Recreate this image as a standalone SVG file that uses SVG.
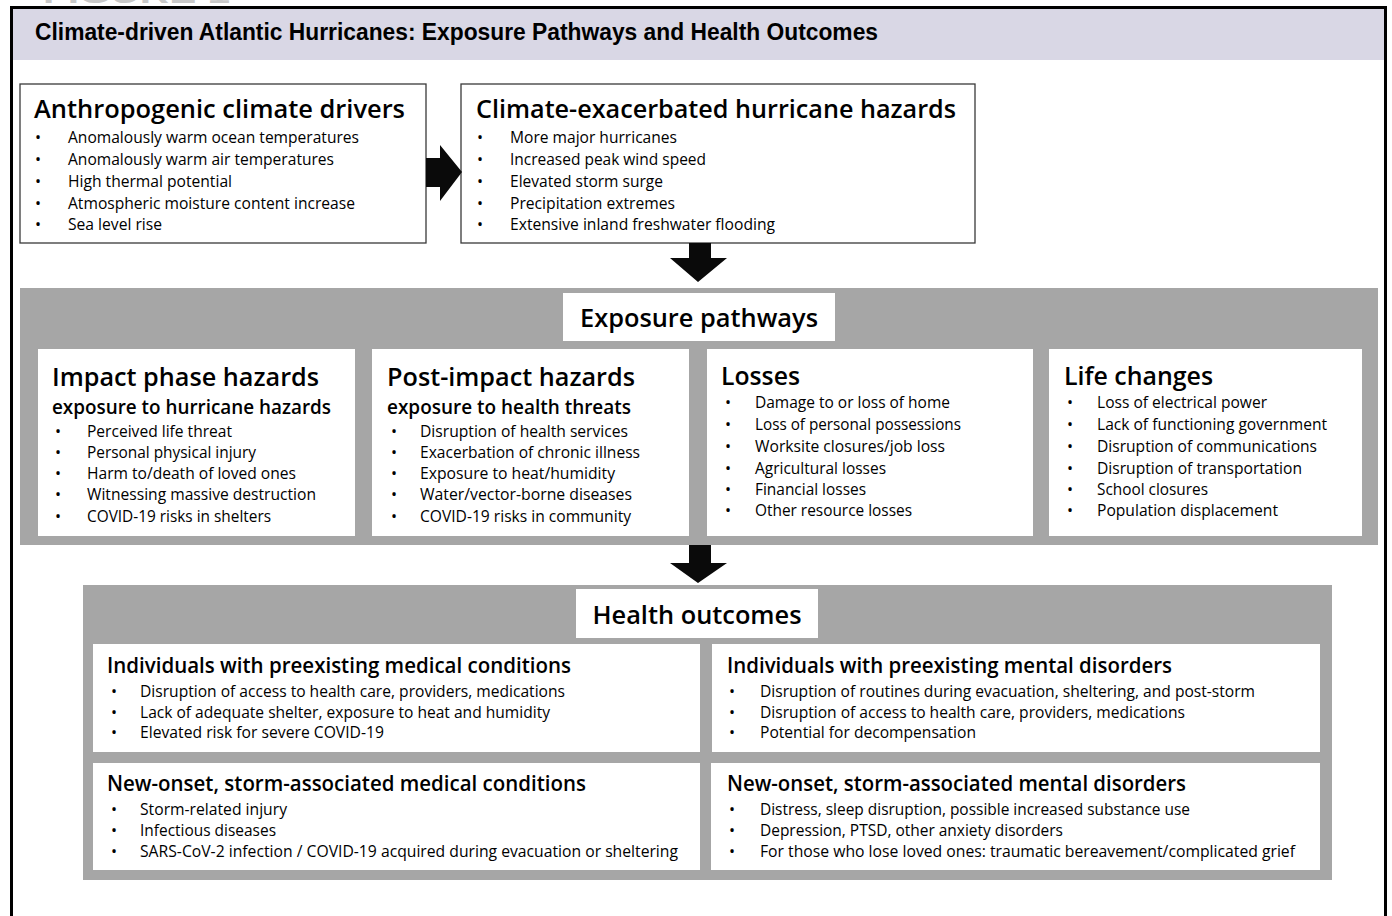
<svg xmlns="http://www.w3.org/2000/svg" width="1392" height="916" viewBox="0 0 1392 916">
<style>
text{font-family:"Open Sans","Noto Sans","Liberation Sans",sans-serif;fill:#000}
.hdr{font-family:"Liberation Sans",Arial,sans-serif;font-weight:bold;font-size:23px}
.t1{font-weight:600;font-size:26px}
.t2{font-weight:600;font-size:26px}
.sub{font-weight:600;font-size:19px}
.th{font-weight:600;font-size:21px}
.it{font-size:16px}
.b{font-size:16px}
.box{fill:#fff;stroke:#3a3a3a;stroke-width:1.3}
.panel{fill:#a6a6a6}
.wb{fill:#fff}
.arr{fill:#0a0a0a}
</style>
<rect width="1392" height="916" fill="#fff"/>
<text x="43" y="3" style="font-family:'Liberation Sans',Arial,sans-serif;font-weight:bold;font-size:28px;fill:#c8c8c8" textLength="187" lengthAdjust="spacingAndGlyphs">FIGURE 1</text>
<rect x="11.5" y="7.5" width="1374" height="950" fill="none" stroke="#000" stroke-width="3"/>
<g id="title">
<rect x="13" y="9" width="1371" height="51" fill="#d9d7e5"/>
<text class="hdr" x="35" y="40" textLength="843" lengthAdjust="spacingAndGlyphs">Climate-driven Atlantic Hurricanes: Exposure Pathways and Health Outcomes</text>
</g>
<g id="drivers">
<rect class="box" x="20" y="84" width="406" height="159"/>
<text class="t1" x="34" y="118" textLength="371" lengthAdjust="spacingAndGlyphs">Anthropogenic climate drivers</text>
<g class="b"><text x="35" y="143">•</text><text x="35" y="165">•</text><text x="35" y="187">•</text><text x="35" y="209">•</text><text x="35" y="230">•</text></g>
<text class="it" x="68" y="143" textLength="291" lengthAdjust="spacingAndGlyphs">Anomalously warm ocean temperatures</text>
<text class="it" x="68" y="165" textLength="266" lengthAdjust="spacingAndGlyphs">Anomalously warm air temperatures</text>
<text class="it" x="68" y="187" textLength="164" lengthAdjust="spacingAndGlyphs">High thermal potential</text>
<text class="it" x="68" y="209" textLength="287" lengthAdjust="spacingAndGlyphs">Atmospheric moisture content increase</text>
<text class="it" x="68" y="230" textLength="94" lengthAdjust="spacingAndGlyphs">Sea level rise</text>
</g>
<g id="hazards">
<rect class="box" x="461" y="84" width="514" height="159"/>
<text class="t1" x="476" y="118" textLength="480" lengthAdjust="spacingAndGlyphs">Climate-exacerbated hurricane hazards</text>
<g class="b"><text x="477" y="143">•</text><text x="477" y="165">•</text><text x="477" y="187">•</text><text x="477" y="209">•</text><text x="477" y="230">•</text></g>
<text class="it" x="510" y="143" textLength="167" lengthAdjust="spacingAndGlyphs">More major hurricanes</text>
<text class="it" x="510" y="165" textLength="196" lengthAdjust="spacingAndGlyphs">Increased peak wind speed</text>
<text class="it" x="510" y="187" textLength="153" lengthAdjust="spacingAndGlyphs">Elevated storm surge</text>
<text class="it" x="510" y="209" textLength="165" lengthAdjust="spacingAndGlyphs">Precipitation extremes</text>
<text class="it" x="510" y="230" textLength="265" lengthAdjust="spacingAndGlyphs">Extensive inland freshwater flooding</text>
</g>
<g id="exposure">
<rect class="panel" x="20" y="288" width="1358" height="257"/>
<rect class="wb" x="563" y="293" width="272" height="48"/>
<text class="t2" x="699" y="327" text-anchor="middle" textLength="238" lengthAdjust="spacingAndGlyphs">Exposure pathways</text>
</g>
<g id="impact">
<rect class="wb" x="38" y="349" width="317" height="187"/>
<text class="t2" x="52" y="386" textLength="267" lengthAdjust="spacingAndGlyphs">Impact phase hazards</text>
<text class="sub" x="52" y="414" textLength="279" lengthAdjust="spacingAndGlyphs">exposure to hurricane  hazards</text>
<g class="b"><text x="55" y="437">•</text><text x="55" y="458">•</text><text x="55" y="479">•</text><text x="55" y="500">•</text><text x="55" y="522">•</text></g>
<text class="it" x="87" y="437" textLength="145" lengthAdjust="spacingAndGlyphs">Perceived life threat</text>
<text class="it" x="87" y="458" textLength="169" lengthAdjust="spacingAndGlyphs">Personal physical injury</text>
<text class="it" x="87" y="479" textLength="209" lengthAdjust="spacingAndGlyphs">Harm to/death of loved ones</text>
<text class="it" x="87" y="500" textLength="229" lengthAdjust="spacingAndGlyphs">Witnessing massive destruction</text>
<text class="it" x="87" y="522" textLength="184" lengthAdjust="spacingAndGlyphs">COVID-19 risks in shelters</text>
</g>
<g id="postimpact">
<rect class="wb" x="372" y="349" width="317" height="187"/>
<text class="t2" x="387" y="386" textLength="248" lengthAdjust="spacingAndGlyphs">Post-impact hazards</text>
<text class="sub" x="387" y="414" textLength="244" lengthAdjust="spacingAndGlyphs">exposure to health threats</text>
<g class="b"><text x="391" y="437">•</text><text x="391" y="458">•</text><text x="391" y="479">•</text><text x="391" y="500">•</text><text x="391" y="522">•</text></g>
<text class="it" x="420" y="437" textLength="208" lengthAdjust="spacingAndGlyphs">Disruption of health services</text>
<text class="it" x="420" y="458" textLength="220" lengthAdjust="spacingAndGlyphs">Exacerbation of chronic illness</text>
<text class="it" x="420" y="479" textLength="195" lengthAdjust="spacingAndGlyphs">Exposure to heat/humidity</text>
<text class="it" x="420" y="500" textLength="212" lengthAdjust="spacingAndGlyphs">Water/vector-borne diseases</text>
<text class="it" x="420" y="522" textLength="211" lengthAdjust="spacingAndGlyphs">COVID-19 risks in community</text>
</g>
<g id="losses">
<rect class="wb" x="707" y="349" width="326" height="187"/>
<text class="t2" x="721" y="385" textLength="79" lengthAdjust="spacingAndGlyphs">Losses</text>
<g class="b"><text x="725" y="408">•</text><text x="725" y="430">•</text><text x="725" y="452">•</text><text x="725" y="474">•</text><text x="725" y="495">•</text><text x="725" y="516">•</text></g>
<text class="it" x="755" y="408" textLength="195" lengthAdjust="spacingAndGlyphs">Damage to or loss of home</text>
<text class="it" x="755" y="430" textLength="206" lengthAdjust="spacingAndGlyphs">Loss of personal possessions</text>
<text class="it" x="755" y="452" textLength="190" lengthAdjust="spacingAndGlyphs">Worksite closures/job loss</text>
<text class="it" x="755" y="474" textLength="131" lengthAdjust="spacingAndGlyphs">Agricultural losses</text>
<text class="it" x="755" y="495" textLength="111" lengthAdjust="spacingAndGlyphs">Financial losses</text>
<text class="it" x="755" y="516" textLength="157" lengthAdjust="spacingAndGlyphs">Other resource losses</text>
</g>
<g id="lifechanges">
<rect class="wb" x="1049" y="349" width="313" height="187"/>
<text class="t2" x="1064" y="385" textLength="149" lengthAdjust="spacingAndGlyphs">Life changes</text>
<g class="b"><text x="1067" y="408">•</text><text x="1067" y="430">•</text><text x="1067" y="452">•</text><text x="1067" y="474">•</text><text x="1067" y="495">•</text><text x="1067" y="516">•</text></g>
<text class="it" x="1097" y="408" textLength="170" lengthAdjust="spacingAndGlyphs">Loss of electrical power</text>
<text class="it" x="1097" y="430" textLength="230" lengthAdjust="spacingAndGlyphs">Lack of functioning government</text>
<text class="it" x="1097" y="452" textLength="220" lengthAdjust="spacingAndGlyphs">Disruption of communications</text>
<text class="it" x="1097" y="474" textLength="205" lengthAdjust="spacingAndGlyphs">Disruption of transportation</text>
<text class="it" x="1097" y="495" textLength="111" lengthAdjust="spacingAndGlyphs">School closures</text>
<text class="it" x="1097" y="516" textLength="181" lengthAdjust="spacingAndGlyphs">Population displacement</text>
</g>
<g id="outcomes">
<rect class="panel" x="83" y="585" width="1249" height="295"/>
<rect class="wb" x="576" y="589" width="242" height="49"/>
<text class="t2" x="697" y="624" text-anchor="middle" textLength="209" lengthAdjust="spacingAndGlyphs">Health outcomes</text>
</g>
<g id="pre-medical">
<rect class="wb" x="93" y="644" width="607" height="108"/>
<text class="th" x="107" y="673" textLength="464" lengthAdjust="spacingAndGlyphs">Individuals with preexisting medical conditions</text>
<g class="b"><text x="111" y="697">•</text><text x="111" y="718">•</text><text x="111" y="738">•</text></g>
<text class="it" x="140" y="697" textLength="425" lengthAdjust="spacingAndGlyphs">Disruption of access to health care, providers, medications</text>
<text class="it" x="140" y="718" textLength="410" lengthAdjust="spacingAndGlyphs">Lack of adequate shelter, exposure to heat and humidity</text>
<text class="it" x="140" y="738" textLength="244" lengthAdjust="spacingAndGlyphs">Elevated risk for severe COVID-19</text>
</g>
<g id="pre-mental">
<rect class="wb" x="712" y="644" width="608" height="108"/>
<text class="th" x="727" y="673" textLength="445" lengthAdjust="spacingAndGlyphs">Individuals with preexisting mental disorders</text>
<g class="b"><text x="729" y="697">•</text><text x="729" y="718">•</text><text x="729" y="738">•</text></g>
<text class="it" x="760" y="697" textLength="495" lengthAdjust="spacingAndGlyphs">Disruption of routines during evacuation, sheltering, and post-storm</text>
<text class="it" x="760" y="718" textLength="425" lengthAdjust="spacingAndGlyphs">Disruption of access to health care, providers, medications</text>
<text class="it" x="760" y="738" textLength="216" lengthAdjust="spacingAndGlyphs">Potential for decompensation</text>
</g>
<g id="new-medical">
<rect class="wb" x="93" y="763" width="607" height="107"/>
<text class="th" x="107" y="791" textLength="479" lengthAdjust="spacingAndGlyphs">New-onset, storm-associated medical conditions</text>
<g class="b"><text x="111" y="815">•</text><text x="111" y="836">•</text><text x="111" y="857">•</text></g>
<text class="it" x="140" y="815" textLength="147" lengthAdjust="spacingAndGlyphs">Storm-related injury</text>
<text class="it" x="140" y="836" textLength="136" lengthAdjust="spacingAndGlyphs">Infectious diseases</text>
<text class="it" x="140" y="857" textLength="538" lengthAdjust="spacingAndGlyphs">SARS-CoV-2 infection / COVID-19 acquired during evacuation or sheltering</text>
</g>
<g id="new-mental">
<rect class="wb" x="711" y="763" width="609" height="107"/>
<text class="th" x="727" y="791" textLength="459" lengthAdjust="spacingAndGlyphs">New-onset, storm-associated mental disorders</text>
<g class="b"><text x="729" y="815">•</text><text x="729" y="836">•</text><text x="729" y="857">•</text></g>
<text class="it" x="760" y="815" textLength="430" lengthAdjust="spacingAndGlyphs">Distress, sleep disruption, possible increased substance use</text>
<text class="it" x="760" y="836" textLength="303" lengthAdjust="spacingAndGlyphs">Depression, PTSD, other anxiety disorders</text>
<text class="it" x="760" y="857" textLength="535" lengthAdjust="spacingAndGlyphs">For those who lose loved ones: traumatic bereavement/complicated grief</text>
</g>
<g id="connectors">
<polygon class="arr" points="426,158 440,158 440,145 462,172 440,201 440,187 426,187"/>
<polygon class="arr" points="689,243 711,243 711,258 727,258 698,282 670,258 689,258"/>
<polygon class="arr" points="689,545 711,545 711,563 727,563 698,583 670,563 689,563"/>
</g>
</svg>
